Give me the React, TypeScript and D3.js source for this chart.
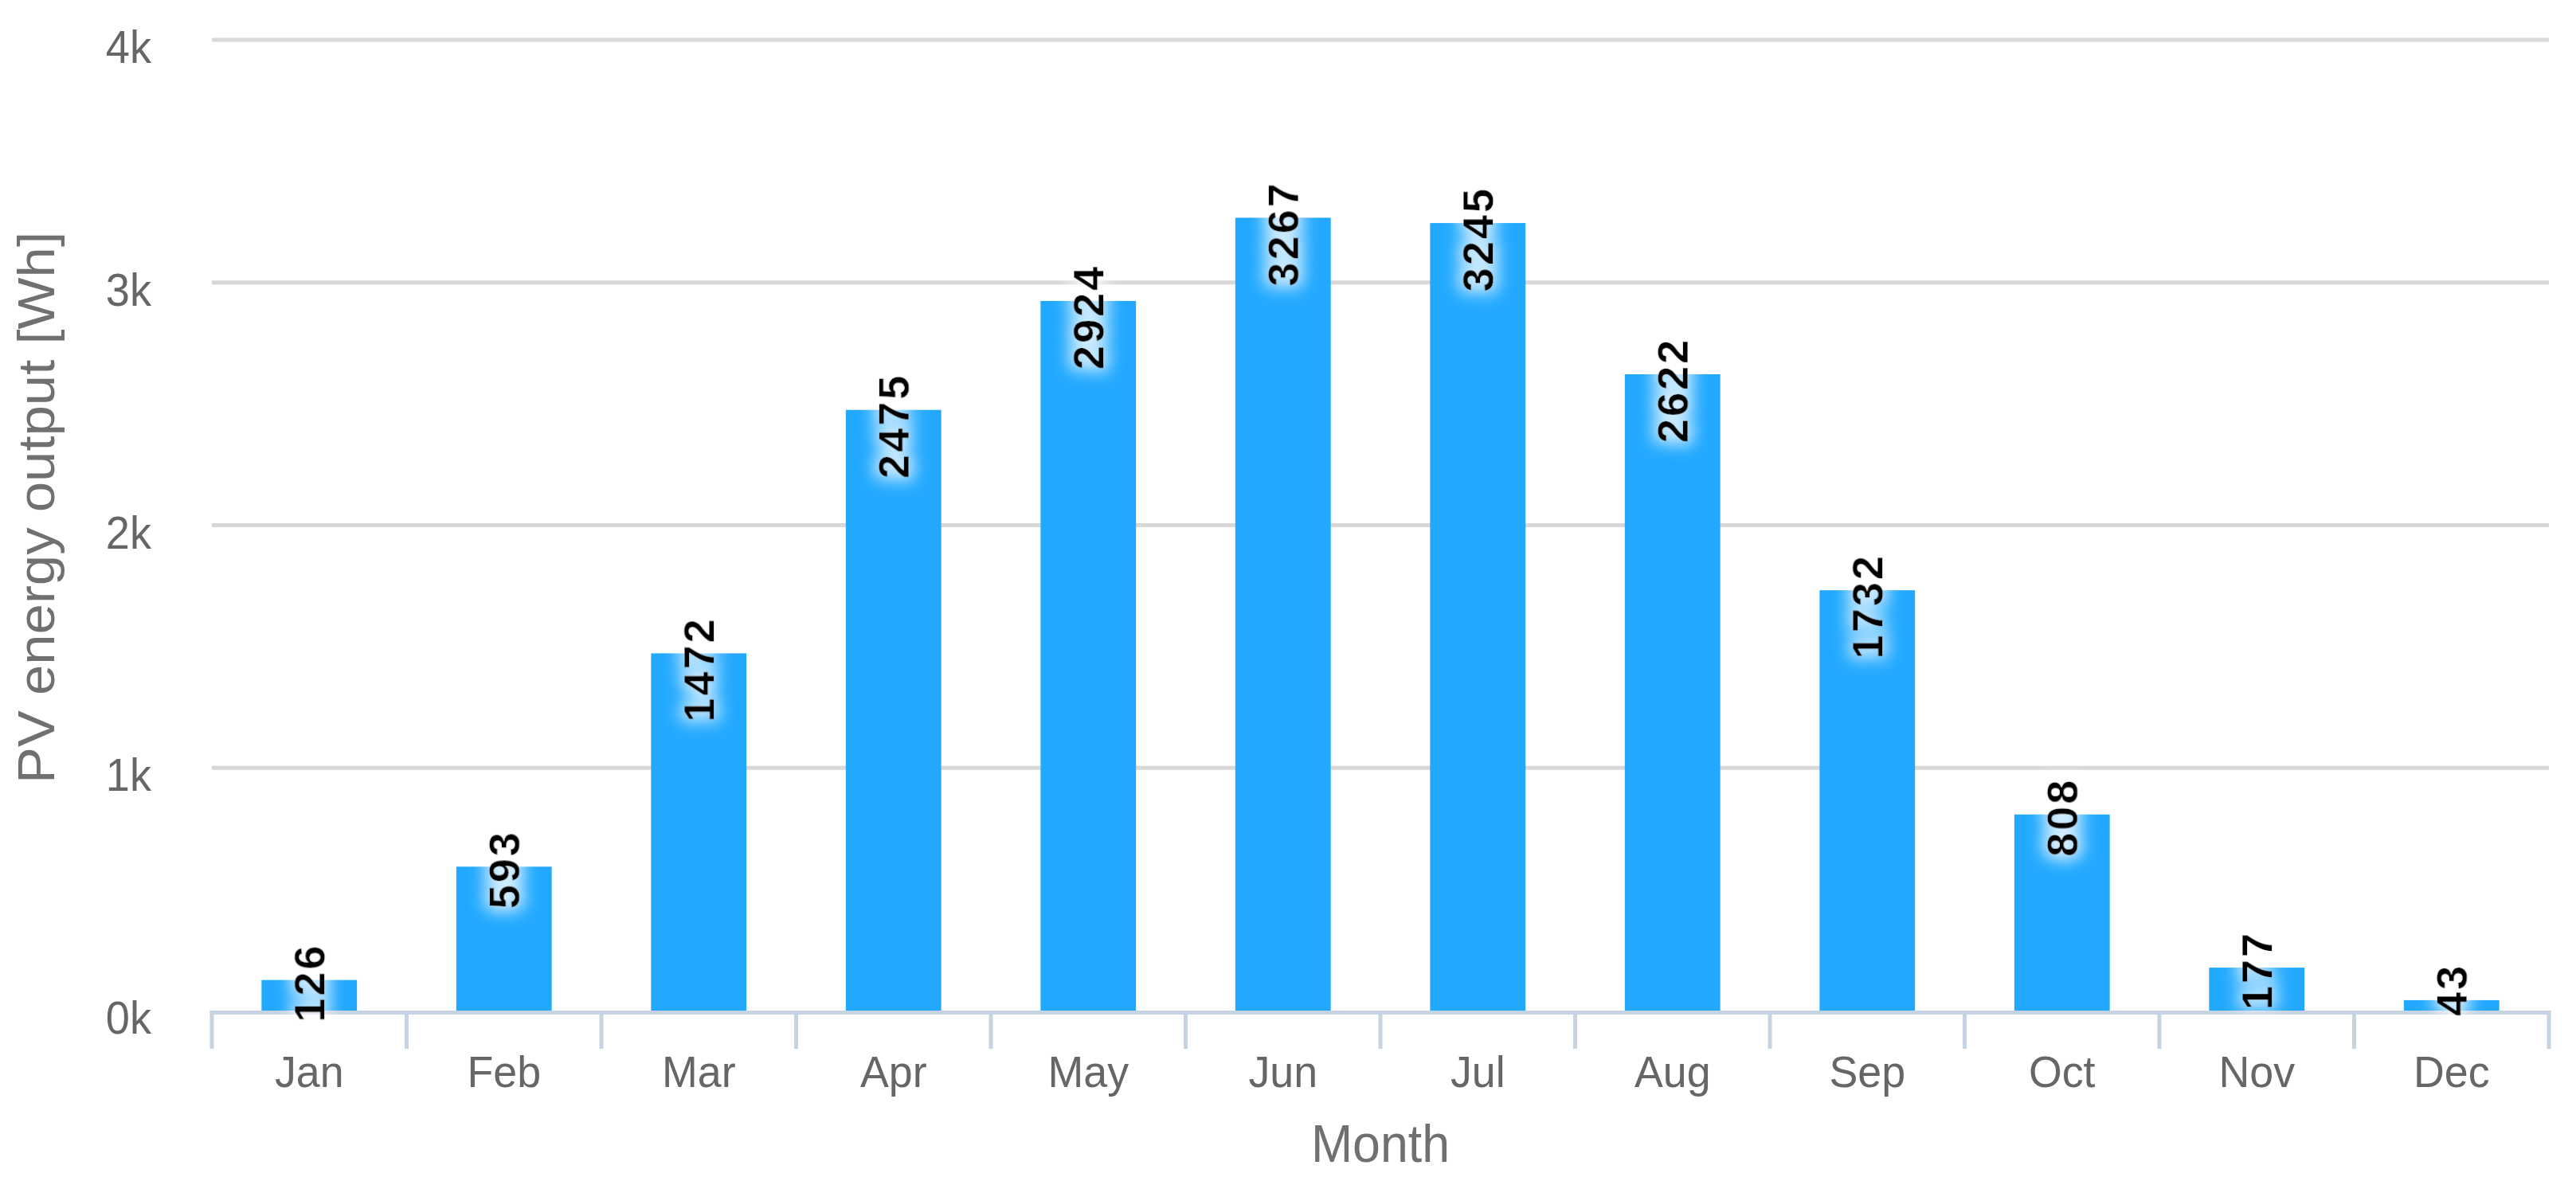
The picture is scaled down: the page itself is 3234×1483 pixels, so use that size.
import React from "react";
import * as d3 from "d3";

const months = ["Jan", "Feb", "Mar", "Apr", "May", "Jun", "Jul", "Aug", "Sep", "Oct", "Nov", "Dec"];
const energyWh = [126, 593, 1472, 2475, 2924, 3267, 3245, 2622, 1732, 808, 177, 43];
const yTicks = [0, 1000, 2000, 3000, 4000];
const xTitle = "Month";
const yTitle = "PV energy output [Wh]";

const W = 3234;
const H = 1483;
const M = { left: 266, right: 34, top: 50, bottom: 214 };

export default function App() {
  const x0 = M.left;
  const x1 = W - M.right;
  const yBase = H - M.bottom;
  const band = d3.scaleBand<string>().domain(months).range([x0, x1]).padding(0);
  const bars = d3
    .scaleBand<string>()
    .domain(months)
    .range([x0, x1])
    .paddingInner(0.51)
    .paddingOuter(0.255);
  const y = d3.scaleLinear().domain([0, 4000]).range([yBase, M.top]);
  const fmt = (v: number) => `${v / 1000}k`;
  const font = "'Liberation Sans', Arial, Helvetica, sans-serif";
  const tickEdges = months.map((m) => band(m) as number).concat([x1]);

  return (
    <svg
      width={W}
      height={H}
      viewBox={`0 0 ${W} ${H}`}
      style={{ position: "absolute", left: 0, top: 0, background: "#fff" }}
    >
      <defs>
        <filter id="glow" x="-80%" y="-80%" width="260%" height="260%">
          <feMorphology in="SourceAlpha" operator="dilate" radius="2" result="dil" />
          <feGaussianBlur in="dil" stdDeviation="11" result="blur" />
          <feFlood floodColor="#ffffff" floodOpacity="0.75" result="white" />
          <feComposite in="white" in2="blur" operator="in" result="halo" />
          <feMerge>
            <feMergeNode in="halo" />
            <feMergeNode in="halo" />
            <feMergeNode in="SourceGraphic" />
          </feMerge>
        </filter>
      </defs>
      <rect x={0} y={0} width={W} height={H} fill="#fff" />
      {yTicks
        .filter((t) => t > 0)
        .map((t) => (
          <line
            key={`g${t}`}
            x1={x0}
            x2={x1}
            y1={y(t)}
            y2={y(t)}
            stroke="#d8d8d8"
            strokeWidth={5}
          />
        ))}
      {yTicks.map((t) => (
        <text
          key={`yl${t}`}
          transform={`translate(190,${y(t) + 29}) scale(0.95,1)`}
          textAnchor="end"
          fontFamily={font}
          fontSize={57}
          fill="#666666"
        >
          {fmt(t)}
        </text>
      ))}
      {months.map((m, i) => (
        <rect
          key={`b${m}`}
          x={bars(m)}
          y={y(energyWh[i])}
          width={bars.bandwidth()}
          height={yBase - y(energyWh[i])}
          fill="#22a9ff"
        />
      ))}
      <line x1={x0 - 2.5} x2={x1 + 2.5} y1={yBase + 2.5} y2={yBase + 2.5} stroke="#c6d3e3" strokeWidth={5} />
      {tickEdges.map((tx, i) => (
        <line key={`t${i}`} x1={tx} x2={tx} y1={yBase} y2={yBase + 48} stroke="#c6d3e3" strokeWidth={5} />
      ))}
      {months.map((m) => (
        <text
          key={`xl${m}`}
          transform={`translate(${(band(m) as number) + band.bandwidth() / 2},1365) scale(0.96,1)`}
          textAnchor="middle"
          fontFamily={font}
          fontSize={56}
          fill="#666666"
        >
          {m}
        </text>
      ))}
      {months.map((m, i) => {
        const cx = (bars(m) as number) + bars.bandwidth() / 2;
        const ty = y(energyWh[i]) - 46;
        return (
          <text
            key={`dl${m}`}
            transform={`translate(${cx + 19},${ty}) rotate(-90)`}
            textAnchor="end"
            fontFamily={font}
            fontWeight="bold"
            fontSize={54}
            letterSpacing={3}
            fill="#000000"
            filter="url(#glow)"
          >
            {energyWh[i]}
          </text>
        );
      })}
      <text
        transform={`translate(${(x0 + x1) / 2},1459) scale(0.95,1)`}
        textAnchor="middle"
        fontFamily={font}
        fontSize={66}
        fill="#707070"
      >
        {xTitle}
      </text>
      <text
        transform={`translate(68,${(M.top + yBase) / 2 - 22}) rotate(-90) scale(1.06,1)`}
        textAnchor="middle"
        fontFamily={font}
        fontSize={65}
        fill="#707070"
      >
        {yTitle}
      </text>
    </svg>
  );
}
